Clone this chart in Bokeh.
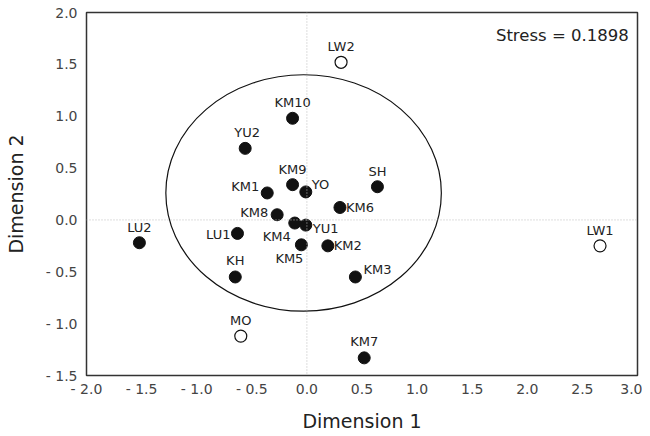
from bokeh.plotting import figure
from bokeh.models import Range1d, Span, Label, ColumnDataSource, FixedTicker
from bokeh.embed import file_html
from bokeh.resources import INLINE

# ---- data ----
names = ["KM10", "YU2", "KM9", "KM1", "YO", "KM8", "SH", "KM6", "LW2", "KM4",
         "YU1", "LU1", "LU2", "KM5", "KM2", "KH", "KM3", "MO", "KM7", "LW1"]
dim1 = [-0.13, -0.56, -0.13, -0.36, -0.01, -0.27, 0.64, 0.30, 0.31, -0.11,
        -0.01, -0.63, -1.52, -0.05, 0.19, -0.65, 0.44, -0.60, 0.52, 2.66]
dim2 = [0.98, 0.69, 0.34, 0.26, 0.27, 0.05, 0.32, 0.12, 1.52, -0.03,
        -0.05, -0.13, -0.22, -0.24, -0.25, -0.55, -0.55, -1.12, -1.33, -0.25]
open_marker = [False, False, False, False, False, False, False, False, True, False,
               False, False, False, False, False, False, False, True, False, True]

ellipse_center = (-0.03, 0.26)
ellipse_size = (2.50, 2.28)

stress_text = "Stress = 0.1898"
x_ticks = [-2.0, -1.5, -1.0, -0.5, 0.0, 0.5, 1.0, 1.5, 2.0, 2.5, 3.0]
x_tick_labels = ["- 2.0", "- 1.5", "- 1.0", "- 0.5", "0.0", "0.5", "1.0", "1.5", "2.0", "2.5", "3.0"]
y_ticks = [-1.5, -1.0, -0.5, 0.0, 0.5, 1.0, 1.5, 2.0]
y_tick_labels = ["- 1.5", "- 1.0", "- 0.5", "0.0", "0.5", "1.0", "1.5", "2.0"]

# ---- label placement (style): align, baseline, dx, dy (screen px, +dy = down) ----
place = {
    "KM10": ("center", "bottom", 0, -8), "YU2": ("center", "bottom", 2, -8),
    "KM9": ("center", "bottom", 0, -8), "KM1": ("right", "middle", -8, -6),
    "YO": ("left", "middle", 6, -7), "KM8": ("right", "middle", -9, -2),
    "SH": ("center", "bottom", 0, -8), "KM6": ("left", "middle", 6, 0),
    "LW2": ("center", "bottom", 0, -8), "KM4": ("right", "middle", -4, 13),
    "YU1": ("left", "middle", 7, 3), "LU1": ("right", "middle", -7, 1),
    "LU2": ("center", "bottom", 0, -8), "KM5": ("right", "middle", 2, 14),
    "KM2": ("left", "middle", 6, 0), "KH": ("center", "bottom", 0, -9),
    "KM3": ("left", "middle", 8, -7), "MO": ("center", "bottom", 0, -8),
    "KM7": ("center", "bottom", 0, -9), "LW1": ("center", "bottom", 0, -8),
}

FONT = "DejaVu Sans"

p = figure(frame_width=551, frame_height=363, output_backend="svg", toolbar_location=None,
           x_range=Range1d(-2.0, 3.0), y_range=Range1d(-1.5, 2.0),
           min_border_left=86, min_border_right=5, min_border_top=12, min_border_bottom=53)
p.grid.visible = False
p.outline_line_color = "#333333"
p.outline_line_width = 1.5
p.background_fill_color = "white"
p.border_fill_color = "white"

for ax in (p.xaxis[0], p.yaxis[0]):
    ax.axis_line_color = None
    ax.major_tick_line_color = None
    ax.minor_tick_line_color = None
    ax.major_tick_out = 0
    ax.major_tick_in = 0
    ax.minor_tick_out = 0
    ax.major_label_text_font = FONT
    ax.major_label_text_font_size = "14px"
    ax.major_label_text_color = "#444444"
    ax.axis_label_text_font = FONT
    ax.axis_label_text_font_size = "19px"
    ax.axis_label_text_font_style = "normal"
    ax.axis_label_text_color = "#222222"

p.xaxis.ticker = FixedTicker(ticks=x_ticks)
p.yaxis.ticker = FixedTicker(ticks=y_ticks)
p.xaxis.major_label_overrides = {t: l for t, l in zip(x_ticks, x_tick_labels)}
p.yaxis.major_label_overrides = {t: l for t, l in zip(y_ticks, y_tick_labels)}
p.xaxis.axis_label = "Dimension 1"
p.yaxis.axis_label = "Dimension 2"
p.xaxis.major_label_standoff = 5
p.yaxis.major_label_standoff = 9
p.xaxis.axis_label_standoff = 10
p.yaxis.axis_label_standoff = 16

p.add_layout(Span(location=0, dimension="width", line_color="#bbbbbb", line_dash="1 2", line_width=1))
p.add_layout(Span(location=0, dimension="height", line_color="#bbbbbb", line_dash="1 2", line_width=1))

p.ellipse(x=[ellipse_center[0]], y=[ellipse_center[1]], width=[ellipse_size[0]], height=[ellipse_size[1]],
          fill_color=None, line_color="#111111", line_width=1.2)

filled = ColumnDataSource(dict(x=[a for a, o in zip(dim1, open_marker) if not o],
                               y=[b for b, o in zip(dim2, open_marker) if not o]))
hollow = ColumnDataSource(dict(x=[a for a, o in zip(dim1, open_marker) if o],
                               y=[b for b, o in zip(dim2, open_marker) if o]))
p.scatter("x", "y", source=filled, size=12, fill_color="#111111", line_color="#111111")
p.scatter("x", "y", source=hollow, size=12, fill_color="white", line_color="#111111", line_width=1.2)

for n, a, b in zip(names, dim1, dim2):
    al, bl, dx, dy = place[n]
    p.add_layout(Label(x=a, y=b, text=n, x_offset=dx, y_offset=-dy, text_align=al,
                       text_baseline=bl, text_font=FONT, text_font_size="13px",
                       text_color="#222222"))

p.add_layout(Label(x=2.92, y=1.78, text=stress_text, text_align="right", text_baseline="middle",
                   text_font=FONT, text_font_size="16.5px", text_color="#222222"))

open("out.html", "w").write(file_html(p, INLINE))
